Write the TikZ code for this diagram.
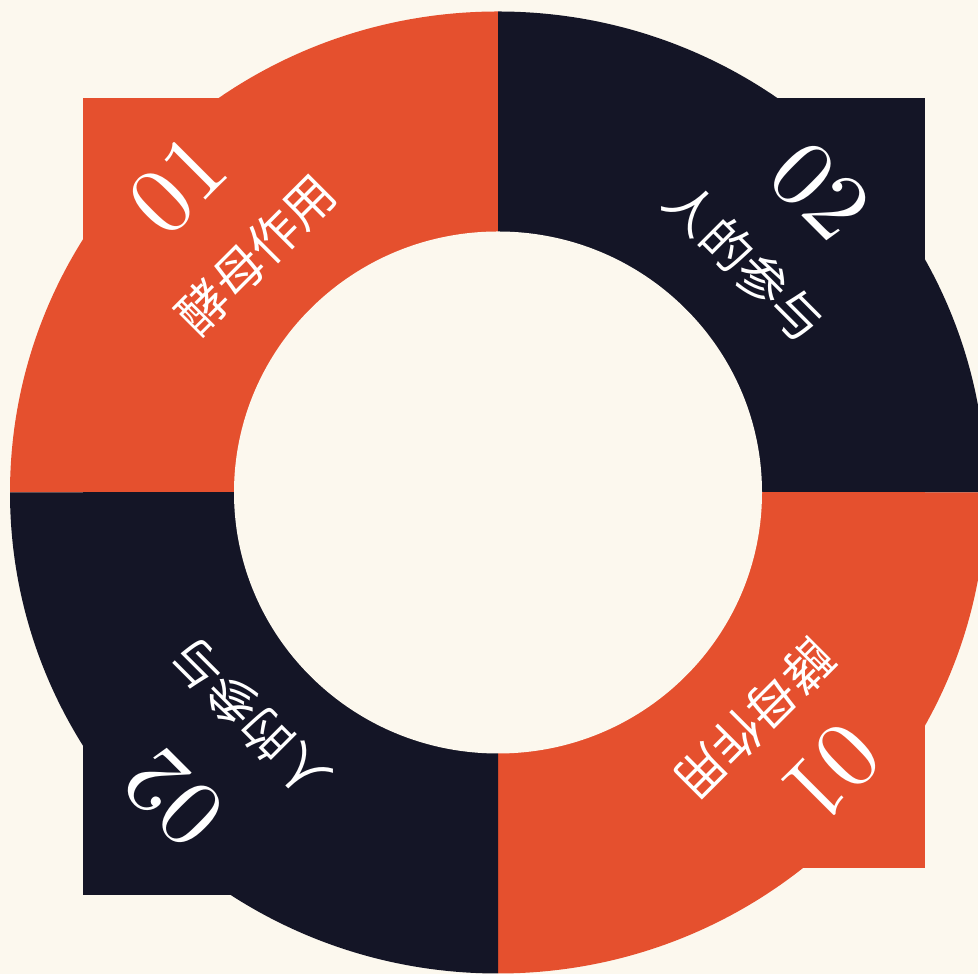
\documentclass[tikz,border=0pt]{standalone}
\usepackage{fontspec}
\newfontfamily\cjk{Noto Sans CJK SC}
\newfontfamily\numfont{lmroman10-regular.otf}
\definecolor{bgc}{HTML}{FCF8EE}
\definecolor{orangec}{HTML}{E5502E}
\definecolor{navyc}{HTML}{141526}
\tikzset{
  num/.style={text=white, inner sep=0pt, font=\numfont\fontsize{95}{95}\selectfont},
  lab/.style={text=white, inner sep=0pt, font=\cjk\fontsize{50}{50}\selectfont},
}
\begin{document}
\begin{tikzpicture}[x=1pt,y=1pt]
\useasboundingbox (0,0) rectangle (978,974);
\clip (0,0) rectangle (978,974);
\fill[bgc] (0,0) rectangle (978,974);
\coordinate (c) at (498,481.5);
% top-left (orange)
\fill[orangec] (83,876) rectangle (498,481.5);
\fill[orangec] (c) -- ++(0,481) arc[start angle=90, end angle=180, x radius=488, y radius=481] -- cycle;
% top-right (navy)
\fill[navyc] (498,876) rectangle (925,481.5);
\fill[navyc] (c) -- ++(488,0) arc[start angle=0, end angle=90, x radius=488, y radius=481] -- cycle;
% bottom-right (orange)
\fill[orangec] (498,481.5) rectangle (925,106);
\fill[orangec] (c) -- ++(0,-481) arc[start angle=270, end angle=360, x radius=488, y radius=481] -- cycle;
% bottom-left (navy)
\fill[navyc] (83,481.5) rectangle (498,79);
\fill[navyc] (c) -- ++(-488,0) arc[start angle=180, end angle=270, x radius=488, y radius=481] -- cycle;
% inner hole
\fill[bgc] (c) ellipse [x radius=264, y radius=261];
% labels
\node[num, rotate=45] (n1) at (178,789) {01};
\node[lab, rotate=45] (t1) at (256,720) {酵母作用};
\node[num, rotate=-45] (n2) at (820,783) {02};
\node[lab, rotate=-45] (t2) at (745,712) {人的参与};
\node[num, rotate=225] (n3) at (831,201) {01};
\node[lab, rotate=225] (t3) at (755,254) {酵母作用};
\node[num, rotate=135] (n4) at (174,176) {02};
\node[lab, rotate=135] (t4) at (250,256) {人的参与};
\end{tikzpicture}
\end{document}
